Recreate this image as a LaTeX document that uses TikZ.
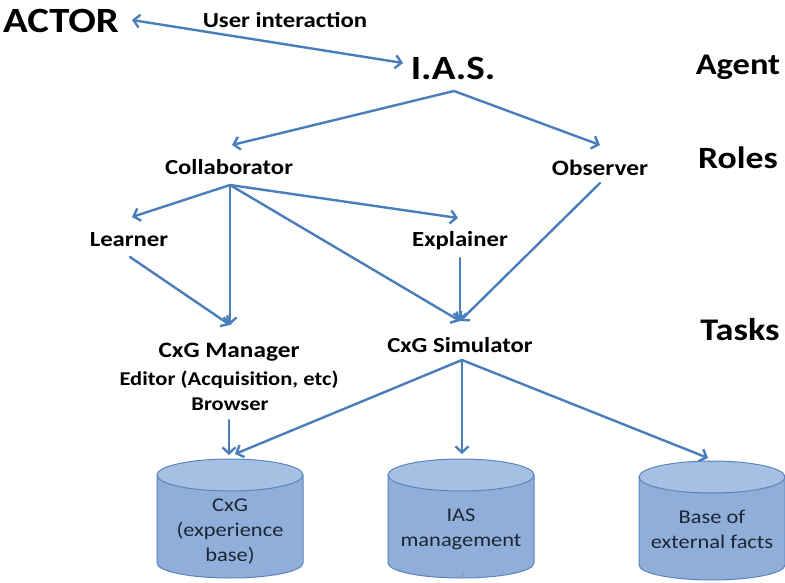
\documentclass[tikz,border=0pt]{standalone}
\usepackage{fontspec}
\setmainfont{Carlito}[FakeStretch=1.15]
\usetikzlibrary{arrows.meta}
\definecolor{linkblue}{HTML}{4A7EBB}
\definecolor{drumbody}{HTML}{8FAFDA}
\definecolor{drumtop}{HTML}{A6C0E3}
\definecolor{drumline}{HTML}{5B84BA}
\definecolor{drumtext}{HTML}{1E2633}
\newcommand\fsz[1]{\fontsize{#1}{#1}\selectfont}
\begin{document}
\begin{tikzpicture}[x=1pt,y=-1pt,
  lbl/.style={inner sep=0pt, anchor=base, font=\bfseries\fsz{21.5}},
  big/.style={lbl, font=\bfseries\fsz{#1}},
  barb/.tip={Straight Barb[length=6pt,width=13pt,line width=2.4pt]},
  link/.style={draw=linkblue, line width=2.4pt, line cap=round, -barb},
  drumtxt/.style={inner sep=0pt, align=center, text=drumtext,
    font=\fontsize{19.5}{25}\selectfont},
  drum/.pic={
    \path[fill=drumbody, draw=drumline, line width=1pt]
      (-73,0) -- (-73,88) arc[start angle=180, end angle=0, x radius=73, y radius=15]
      -- (73,0) -- cycle;
    \path[fill=drumtop, draw=drumline, line width=1pt]
      (0,0) ellipse[x radius=73, y radius=16];
    \coordinate (-top) at (0,-16);
  }]
\useasboundingbox[fill=white] (0,0) rectangle (785,583);

% level captions
\node[big=30] (agent) at (738,75) {Agent};
\node[big=31] (roles) at (738,168) {Roles};
\node[big=31.5] (tasks) at (740,340) {Tasks};

% agent level
\node[big=35.5, anchor=base west] (actor) at (3,33) {ACTOR};
\node[lbl] (ui) at (285,28) {User interaction};
\node[big=34] (ias) at (453,80) {I.A.S.};

% roles
\node[lbl] (collab) at (229,175) {Collaborator};
\node[lbl, font=\bfseries\fsz{22}] (observer) at (600,176) {Observer};
\node[lbl] (learner) at (129,247) {Learner};
\node[lbl] (explainer) at (460,247) {Explainer};

% tasks
\node[big=22] (manager) at (229,357) {CxG Manager};
\node[big=19.6] (editor) at (229,385) {Editor (Acquisition, etc)};
\node[big=19.5] (browser) at (230,410) {Browser};
\node[big=21.5] (simulator) at (460,352) {CxG Simulator};

% stores
\pic (dA) at (230,475) {drum};
\pic (dB) at (461,475) {drum};
\pic (dC) at (712,477) {drum};
\node[drumtxt] (dAtext) at (230,532) {CxG\\(experience\\base)};
\node[drumtxt] (dBtext) at (461,529) {IAS\\management};
\node[drumtxt] (dCtext) at (712,529) {Base of\\external facts};
\node[inner sep=0pt, text=black!45, font=\fsz{6}] (pageno) at (463,577) {1};

% connector ends
\coordinate (actor-port) at (132,20);
\coordinate (ias-port) at (403,63);
\coordinate (ias-fork) at (454,91);
\coordinate (collab-in) at (232,145);
\coordinate (observer-in) at (600,145);
\coordinate (collab-fork) at (230,185);
\coordinate (learner-in) at (132,217);
\coordinate (explainer-in) at (458,218);
\coordinate (manager-in) at (230,325);
\coordinate (simulator-in) at (460,321);
\coordinate (learner-out) at (130,257);
\coordinate (explainer-out) at (460,258);
\coordinate (observer-out) at (600,183);
\coordinate (simulator-fork) at (462,360);
\coordinate (browser-out) at (229,420);
\coordinate (dA-inS) at (235,454);
\coordinate (dA-inB) at (229,455);
\coordinate (dB-in) at (462,454);
\coordinate (dC-in) at (708,458);

% connectors
\draw[link, barb-barb] (actor-port) -- (ias-port);
\draw[link] (ias-fork) -- (collab-in);
\draw[link] (ias-fork) -- (observer-in);
\draw[link] (collab-fork) -- (learner-in);
\draw[link] (collab-fork) -- (explainer-in);
\draw[link] (collab-fork) -- (manager-in);
\draw[link] (collab-fork) -- (simulator-in);
\draw[link] (learner-out) -- (manager-in);
\draw[link] (explainer-out) -- (simulator-in);
\draw[link] (observer-out) -- (simulator-in);
\draw[link] (simulator-fork) -- (dA-inS);
\draw[link] (simulator-fork) -- (dB-in);
\draw[link] (simulator-fork) -- (dC-in);
\draw[link] (browser-out) -- (dA-inB);
\end{tikzpicture}
\end{document}
